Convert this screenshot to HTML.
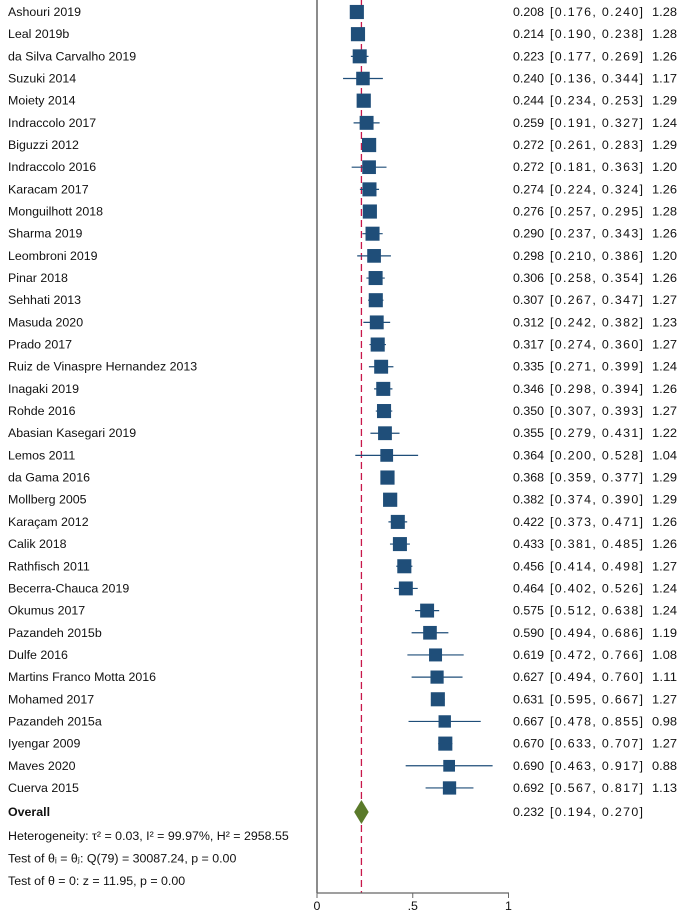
<!DOCTYPE html>
<html><head><meta charset="utf-8"><style>
body{margin:0;background:#fff;width:678px;height:910px;overflow:hidden;font-family:"Liberation Sans",Arial,sans-serif}
svg text{font-family:"Liberation Sans",Arial,sans-serif;font-size:12.4px;fill:#111}
</style></head><body>
<svg id="plot" width="678" height="910"></svg>
<script>
const studies=["Ashouri 2019","Leal 2019b","da Silva Carvalho 2019","Suzuki 2014","Moiety 2014","Indraccolo 2017","Biguzzi 2012","Indraccolo 2016","Karacam 2017","Monguilhott 2018","Sharma 2019","Leombroni 2019","Pinar 2018","Sehhati 2013","Masuda 2020","Prado 2017","Ruiz de Vinaspre Hernandez 2013","Inagaki 2019","Rohde 2016","Abasian Kasegari 2019","Lemos 2011","da Gama 2016","Mollberg 2005","Karaçam 2012","Calik 2018","Rathfisch 2011","Becerra-Chauca 2019","Okumus 2017","Pazandeh 2015b","Dulfe 2016","Martins Franco Motta 2016","Mohamed 2017","Pazandeh 2015a","Iyengar 2009","Maves 2020","Cuerva 2015"];
const est=[0.208,0.214,0.223,0.240,0.244,0.259,0.272,0.272,0.274,0.276,0.290,0.298,0.306,0.307,0.312,0.317,0.335,0.346,0.350,0.355,0.364,0.368,0.382,0.422,0.433,0.456,0.464,0.575,0.590,0.619,0.627,0.631,0.667,0.670,0.690,0.692];
const lo=[0.176,0.190,0.177,0.136,0.234,0.191,0.261,0.181,0.224,0.257,0.237,0.210,0.258,0.267,0.242,0.274,0.271,0.298,0.307,0.279,0.200,0.359,0.374,0.373,0.381,0.414,0.402,0.512,0.494,0.472,0.494,0.595,0.478,0.633,0.463,0.567];
const hi=[0.240,0.238,0.269,0.344,0.253,0.327,0.283,0.363,0.324,0.295,0.343,0.386,0.354,0.347,0.382,0.360,0.399,0.394,0.393,0.431,0.528,0.377,0.390,0.471,0.485,0.498,0.526,0.638,0.686,0.766,0.760,0.667,0.855,0.707,0.917,0.817];
const wt=[1.28,1.28,1.26,1.17,1.29,1.24,1.29,1.20,1.26,1.28,1.26,1.20,1.26,1.27,1.23,1.27,1.24,1.26,1.27,1.22,1.04,1.29,1.29,1.26,1.26,1.27,1.24,1.24,1.19,1.08,1.11,1.27,0.98,1.27,0.88,1.13];
const overall=[0.232,0.194,0.270];
const xTicks=[0,0.5,1];
const xTickLabels=["0",".5","1"];

const NS="http://www.w3.org/2000/svg";
const svg=document.getElementById('plot');
const X=v=>317+v*191.5;
const Y=i=>12+i*22.17;
function el(t,a,txt){const e=document.createElementNS(NS,t);for(const k in a)e.setAttribute(k,a[k]);if(txt!==undefined)e.textContent=txt;svg.appendChild(e);return e;}
const f=v=>v.toFixed(3);

let e=el('line',{x1:317,y1:0,x2:317,y2:893,stroke:'#666','stroke-width':1.5});

e=el('line',{x1:X(overall[0]),y1:0,x2:X(overall[0]),y2:893,stroke:'#c8174a','stroke-width':1.3,'stroke-dasharray':'7,4'});


studies.forEach((s,i)=>{
 const y=Y(i);
 let t=el('text',{x:8,y:y+4},s);
 
 let l=el('line',{x1:X(lo[i]),y1:y,x2:X(hi[i]),y2:y,stroke:'#1f4e79','stroke-width':1.2});
 
 const sz=12.5*Math.sqrt(wt[i]);
 let r=el('rect',{x:X(est[i])-sz/2,y:y-sz/2,width:sz,height:sz,fill:'#1f4e79'});
 
 let a=el('text',{x:513,y:y+4,textLength:31,lengthAdjust:'spacingAndGlyphs'},f(est[i]));
 
 let c=el('text',{x:550,y:y+4,textLength:93},"["+f(lo[i])+", "+f(hi[i])+"]");
 
 let w=el('text',{x:652,y:y+4,textLength:25,lengthAdjust:'spacingAndGlyphs'},wt[i].toFixed(2));
 
});
const oy=812;
e=el('text',{x:8,y:oy+4,'font-weight':'bold'},'Overall');

e=el('polygon',{points:`${X(overall[1])},${oy} ${X(overall[0])},${oy-12} ${X(overall[2])},${oy} ${X(overall[0])},${oy+12}`,fill:'#5a7a2a'});

e=el('text',{x:513,y:oy+4,textLength:31,lengthAdjust:'spacingAndGlyphs'},f(overall[0]));

e=el('text',{x:550,y:oy+4,textLength:93},"["+f(overall[1])+", "+f(overall[2])+"]");

const notes=["Heterogeneity: τ² = 0.03, I² = 99.97%, H² = 2958.55","Test of θᵢ = θⱼ: Q(79) = 30087.24, p = 0.00","Test of θ = 0: z = 11.95, p = 0.00"];
notes.forEach((n,i)=>{const t=el('text',{x:8,y:840+i*22.5},n);
 });
e=el('line',{x1:317,y1:893,x2:509,y2:893,stroke:'#666','stroke-width':1.2});

xTicks.forEach((v,i)=>{
 const k=el('line',{x1:X(v),y1:893,x2:X(v),y2:898,stroke:'#666'});
 
 const t=el('text',{x:X(v),y:910,'text-anchor':'middle'},xTickLabels[i]);
 
});
</script>
</body></html>
